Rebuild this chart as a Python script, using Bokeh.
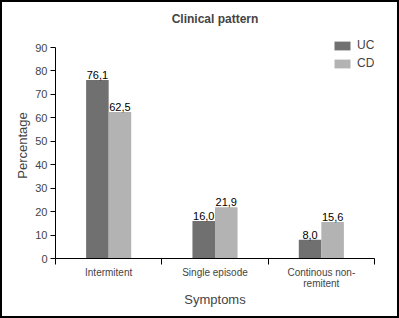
from bokeh.plotting import figure
from bokeh.models import ColumnDataSource, FixedTicker, Legend, LegendItem
from bokeh.core.properties import value
from bokeh.embed import file_html
from bokeh.resources import INLINE

title_text = "Clinical pattern"
categories = ["Intermitent", "Single episode", "Continous non-\nremitent"]
uc = [76.1, 16.0, 8.0]
cd = [62.5, 21.9, 15.6]
y_ticks = [0, 10, 20, 30, 40, 50, 60, 70, 80, 90]

FONT = "Liberation Sans"
BW = 0.212
xc = [i + 0.5 for i in range(len(categories))]

def fmt(v):
    return f"{v:.1f}".replace(".", ",")

src_uc = ColumnDataSource(dict(x=[c - BW / 2 for c in xc], top=uc, lab=[fmt(v) for v in uc]))
src_cd = ColumnDataSource(dict(x=[c + BW / 2 for c in xc], top=cd, lab=[fmt(v) for v in cd]))

p = figure(width=399, height=318, output_backend="svg", toolbar_location=None,
           x_range=(0, 3), y_range=(0, 96.4),
           min_border_left=53, min_border_right=27, min_border_top=30, min_border_bottom=62)
p.styles = {"border": "2px solid black", "box-sizing": "border-box"}
p.outline_line_color = None
p.xgrid.visible = False
p.ygrid.visible = False

r1 = p.vbar(x="x", top="top", width=BW, source=src_uc, fill_color="#707070", line_color=None)
r2 = p.vbar(x="x", top="top", width=BW, source=src_cd, fill_color="#b3b3b3", line_color=None)

for s in (src_uc, src_cd):
    p.text(x="x", y="top", text="lab", source=s, text_align="center", text_baseline="bottom",
           y_offset=-1, text_font=value(FONT), text_font_size="11px", text_color="black")

p.title.text = title_text
p.title.align = "center"
p.title.text_font = FONT
p.title.text_font_size = "12px"
p.title.text_font_style = "bold"
p.title.offset = -14
p.title.standoff = 14

# y axis
p.yaxis.ticker = FixedTicker(ticks=y_ticks)
p.yaxis.bounds = (0, 90)
p.yaxis.minor_tick_line_color = None
p.yaxis.major_tick_out = 5
p.yaxis.major_tick_in = 0
p.yaxis.axis_label = "Percentage"
p.yaxis.axis_label_text_font = FONT
p.yaxis.axis_label_text_font_size = "13px"
p.yaxis.axis_label_text_font_style = "normal"
p.yaxis.axis_label_standoff = 2
p.yaxis.major_label_text_font = FONT
p.yaxis.major_label_text_font_size = "11px"
p.yaxis.major_label_standoff = 3
p.yaxis.axis_line_color = "black"
p.yaxis.major_tick_line_color = "black"

# x axis
p.xaxis.ticker = FixedTicker(ticks=xc, minor_ticks=[0, 1, 2, 3])
p.xaxis.major_label_overrides = {xc[i]: categories[i] for i in range(len(categories))}
p.xaxis.major_tick_out = 0
p.xaxis.major_tick_in = 0
p.xaxis.minor_tick_out = 6
p.xaxis.minor_tick_in = 0
p.xaxis.minor_tick_line_color = "black"
p.xaxis.major_label_text_font = FONT
p.xaxis.major_label_text_font_size = "10px"
p.xaxis.major_label_text_line_height = 1.0
p.xaxis.major_label_standoff = 2
p.xaxis.axis_label = "Symptoms"
p.xaxis.axis_label_text_font = FONT
p.xaxis.axis_label_text_font_size = "13px"
p.xaxis.axis_label_text_font_style = "normal"
p.xaxis.axis_label_standoff = 0

legend = Legend(items=[LegendItem(label="UC", renderers=[r1]), LegendItem(label="CD", renderers=[r2])],
                location=(277, 188), border_line_color=None, background_fill_alpha=0,
                label_text_font=FONT, label_text_font_size="12px",
                glyph_width=20, glyph_height=11, label_height=11, spacing=4, label_standoff=5,
                padding=0, margin=0)
p.add_layout(legend)

open("out.html", "w").write(file_html(p, INLINE))
